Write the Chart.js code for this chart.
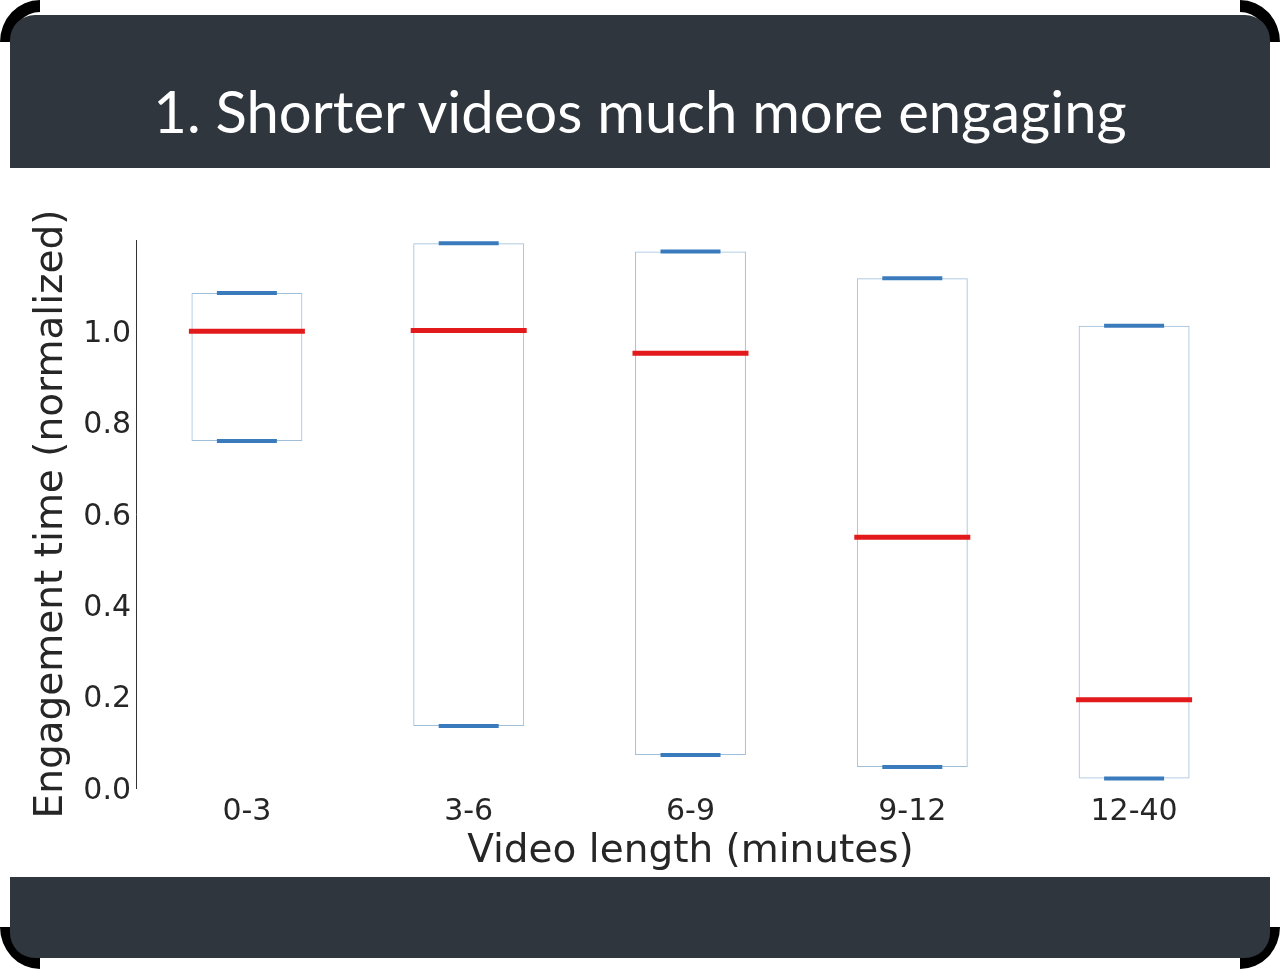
<!DOCTYPE html>
<html>
<head>
<meta charset="utf-8">
<title>Shorter videos much more engaging</title>
<script src="https://cdn.jsdelivr.net/npm/chart.js@4"></script>
<style>
  html, body { margin: 0; padding: 0; background: #ffffff; }
  #page { position: relative; width: 1280px; height: 969px; overflow: hidden; background: #fff; }
  .corner { position: absolute; width: 40px; height: 42px; overflow: hidden; }
  .corner div { position: absolute; width: 56px; height: 60px; border: 12px solid #000; border-radius: 50%; }
  .band { position: absolute; left: 10px; width: 1260px; background: #2f363d; }
  #topBand { top: 15px; height: 153px; border-radius: 25px 25px 0 0; }
  #bottomBand { top: 877px; height: 81px; border-radius: 0 0 25px 25px; }
  #title { position: absolute; left: 10px; top: 15px; width: 1260px; height: 153px;
    color: #ffffff; font-family: Lato, "Open Sans", sans-serif; font-size: 58px;
    text-align: center; line-height: 192px; white-space: nowrap; }
  #chart { position: absolute; left: 0; top: 0; }
</style>
</head>
<body>
<div id="page">
  <div class="corner" style="left:0;top:0"><div style="left:0;top:0"></div></div>
  <div class="corner" style="right:0;top:0"><div style="right:0;top:0"></div></div>
  <div class="corner" style="left:0;bottom:0"><div style="left:0;bottom:0"></div></div>
  <div class="corner" style="right:0;bottom:0"><div style="right:0;bottom:0"></div></div>
  <div class="band" id="topBand"></div>
  <div class="band" id="bottomBand"></div>
  <div id="title">1. Shorter videos much more engaging</div>
  <canvas id="chart" width="1280" height="969"></canvas>
</div>
<script>
// video length buckets and engagement ranges
const categories = ['0-3', '3-6', '6-9', '9-12', '12-40'];
const lowValues = [0.760, 0.136, 0.072, 0.046, 0.021];
const highValues = [1.084, 1.193, 1.175, 1.116, 1.012];
const medianValues = [1.000, 1.002, 0.952, 0.549, 0.193];
const yTicks = [0.0, 0.2, 0.4, 0.6, 0.8, 1.0];

const tickFont = { family: 'DejaVu Sans', size: 30 };
// small line height + leading empty line nudges y labels down a few px
const yTickFont = { family: 'DejaVu Sans', size: 30, lineHeight: 0.2 };
const titleFont = { family: 'DejaVu Sans', size: 39 };
const textColor = '#262626';

const ctx = document.getElementById('chart').getContext('2d');
const chart = new Chart(ctx, {
  type: 'bar',
  data: {
    labels: categories,
    datasets: [
      {
        type: 'line',
        label: 'median',
        data: medianValues,
        showLine: false,
        pointStyle: 'line',
        pointRadius: 58,
        pointBorderWidth: 5,
        pointBorderColor: '#e31a1c',
        order: 0
      },
      {
        type: 'line',
        label: 'upper cap',
        data: highValues,
        showLine: false,
        pointStyle: 'line',
        pointRadius: 30,
        pointBorderWidth: 4,
        pointBorderColor: '#3a7bbd',
        order: 1
      },
      {
        type: 'line',
        label: 'lower cap',
        data: lowValues,
        showLine: false,
        pointStyle: 'line',
        pointRadius: 30,
        pointBorderWidth: 4,
        pointBorderColor: '#3a7bbd',
        order: 1
      },
      {
        label: 'range',
        data: categories.map((c, i) => [lowValues[i], highValues[i]]),
        backgroundColor: 'rgba(0,0,0,0)',
        borderColor: '#9fbfdb',
        borderWidth: 1,
        borderSkipped: false,
        categoryPercentage: 1,
        barPercentage: 0.5,
        order: 3
      }
    ]
  },
  options: {
    responsive: false,
    animation: false,
    events: [],
    layout: {
      autoPadding: false,
      padding: { left: 0, top: 240, right: 35, bottom: 91 }
    },
    plugins: {
      legend: { display: false },
      tooltip: { enabled: false }
    },
    scales: {
      x: {
        grid: { display: false, drawTicks: false },
        border: { display: false },
        ticks: { font: tickFont, color: textColor, padding: 6 },
        title: {
          display: true,
          text: 'Video length (minutes)',
          font: titleFont,
          color: textColor,
          padding: { top: 0, bottom: 3 }
        },
        afterFit: scale => {
          scale.height = 90;
          scale.paddingLeft = 0;
          scale.paddingRight = 0;
        }
      },
      y: {
        min: 0,
        max: 1.2,
        grid: { display: false, drawTicks: false },
        border: { display: true, color: '#333333', width: 1 },
        afterBuildTicks: scale => {
          scale.ticks = yTicks.map(v => ({ value: v }));
        },
        ticks: {
          font: yTickFont,
          color: textColor,
          padding: 5,
          callback: v => ['', Number(v).toFixed(1)]
        },
        title: {
          display: true,
          text: 'Engagement time (normalized)',
          font: titleFont,
          color: textColor,
          padding: { top: 28, bottom: 0 }
        },
        afterFit: scale => {
          scale.width = 136;
          scale.paddingTop = 0;
          scale.paddingBottom = 0;
        }
      }
    }
  }
});
</script>
</body>
</html>
